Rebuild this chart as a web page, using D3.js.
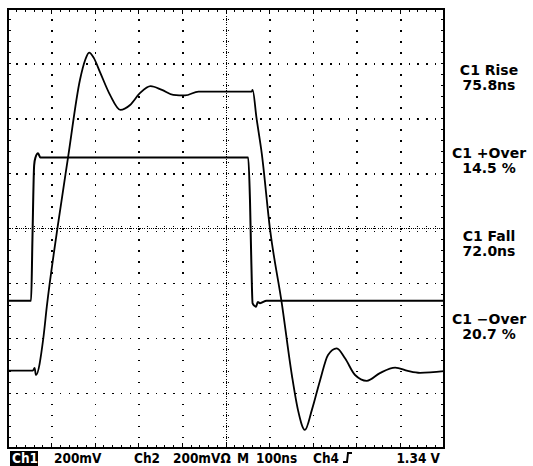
<!DOCTYPE html>
<html>
<head>
<meta charset="utf-8">
<script src="https://cdn.jsdelivr.net/npm/d3@7"></script>
<style>
  body { margin: 0; background: #fff; }
  svg { display: block; }
  .lbl { font-family: "DejaVu Sans", sans-serif; font-weight: bold; font-size: 14px; }
  .bot { font-family: "Liberation Sans Narrow", "DejaVu Sans Condensed", sans-serif; font-weight: bold; font-size: 13.5px; }
</style>
</head>
<body>
<div id="scope"></div>
<script>
// Fast pulse trace (time in ns, level in V)
const pulseTime = [0, 53, 56, 60, 63, 69, 74, 300, 551, 555, 558, 561, 569, 573, 578, 593, 1000]
const pulseVolt = [-0.263, -0.263, -0.042, 0.231, 0.259, 0.274, 0.259, 0.259, 0.259, 0.104, -0.115, -0.273, -0.285, -0.268, -0.272, -0.263, -0.263]

// Slow ringing trace
const ringTime = [0, 57, 61, 64, 81, 89, 113, 138, 165, 177, 186, 197, 211, 234, 258, 280, 303, 327, 353, 379, 406, 437, 502, 559, 561,
  570, 582, 601, 628, 651, 665, 681, 697, 716, 734, 754, 773, 796, 823, 853, 888, 917, 945, 1000]
const ringVolt = [-0.518, -0.518, -0.508, -0.534, -0.400, -0.285, -0.003, 0.262, 0.541, 0.614, 0.641, 0.621, 0.570, 0.487, 0.432, 0.450,
  0.494, 0.519, 0.505, 0.487, 0.485, 0.499, 0.499, 0.499, 0.505,
  0.402, 0.274, -0.003, -0.273, -0.534, -0.661, -0.734, -0.661, -0.552, -0.461, -0.437, -0.473, -0.534, -0.555, -0.527, -0.507, -0.519, -0.526, -0.520]

// Measurement readouts
const measNames = ['C1 Rise', 'C1 +Over', 'C1 Fall', 'C1 \u2212Over']
const measValues = ['75.8ns', '14.5 %', '72.0ns', '20.7 %']

// Status line
const statusTexts = ['200mV', 'Ch2', '200mV\u03a9', 'M', '100ns', 'Ch4']
const statusX = [54, 134, 173, 237, 256, 313]

const width = 533
const height = 466

const svg = d3.select('#scope').append('svg')
  .attr('width', width)
  .attr('height', height)

const x = d3.scaleLinear().domain([0, 1000]).range([8, 444])
const y = d3.scaleLinear().domain([-0.8, 0.8]).range([448, 9])

const xMajor = d3.range(0, 1001, 100)
const xMinor = d3.range(0, 1001, 20)
const yMajor = d3.range(-8, 9).filter(d => d % 2 === 0).map(d => d / 10)
const yMinor = d3.range(-40, 41, 2).map(d => d / 50)

const grid = svg.append('g').attr('shape-rendering', 'crispEdges')

// Dotted graticule
xMajor.slice(1, -1).filter(t => t !== 500).forEach(t => {
  grid.selectAll(null).data(yMinor.slice(1, -1)).enter().append('rect')
    .attr('x', x(t) - 0.5).attr('y', d => y(d) - 0.5)
    .attr('width', 1.6).attr('height', 1.6).attr('fill', '#000')
})
yMajor.slice(1, -1).filter(v => v !== 0).forEach(v => {
  grid.selectAll(null).data(xMinor.slice(1, -1)).enter().append('rect')
    .attr('x', d => x(d) - 0.5).attr('y', y(v) - 0.5)
    .attr('width', 1.6).attr('height', 1.6).attr('fill', '#000')
})

// Centre crosshair
grid.append('line')
  .attr('x1', x(500)).attr('x2', x(500)).attr('y1', y(0.8)).attr('y2', y(-0.8))
  .attr('stroke', '#000').attr('stroke-dasharray', '1,1.2')
grid.append('line')
  .attr('x1', x(0)).attr('x2', x(1000)).attr('y1', y(0)).attr('y2', y(0))
  .attr('stroke', '#000').attr('stroke-dasharray', '1,1.2')
grid.selectAll('.cx').data(yMinor).enter().append('line')
  .attr('x1', x(500) - 3).attr('x2', x(500) + 3)
  .attr('y1', d => y(d)).attr('y2', d => y(d))
  .attr('stroke', '#000').attr('stroke-dasharray', '1,1.5')
grid.selectAll('.cy').data(xMinor).enter().append('line')
  .attr('y1', y(0) - 3).attr('y2', y(0) + 3)
  .attr('x1', d => x(d)).attr('x2', d => x(d))
  .attr('stroke', '#000').attr('stroke-dasharray', '1,1.5')

// Border ticks
const tickLen = 3
grid.selectAll('.tt').data(xMinor).enter().append('line')
  .attr('x1', d => x(d)).attr('x2', d => x(d))
  .attr('y1', y(0.8)).attr('y2', d => y(0.8) + (d % 100 === 0 ? tickLen + 2 : tickLen))
  .attr('stroke', '#000')
grid.selectAll('.tb').data(xMinor).enter().append('line')
  .attr('x1', d => x(d)).attr('x2', d => x(d))
  .attr('y1', y(-0.8)).attr('y2', d => y(-0.8) - (d % 100 === 0 ? tickLen + 2 : tickLen))
  .attr('stroke', '#000')
grid.selectAll('.tl').data(yMinor).enter().append('line')
  .attr('y1', d => y(d)).attr('y2', d => y(d))
  .attr('x1', x(0)).attr('x2', x(0) + tickLen)
  .attr('stroke', '#000')
grid.selectAll('.tr').data(yMinor).enter().append('line')
  .attr('y1', d => y(d)).attr('y2', d => y(d))
  .attr('x1', x(1000)).attr('x2', x(1000) - tickLen)
  .attr('stroke', '#000')

grid.append('rect')
  .attr('x', x(0)).attr('y', y(0.8))
  .attr('width', x(1000) - x(0)).attr('height', y(-0.8) - y(0.8))
  .attr('fill', 'none').attr('stroke', '#000').attr('stroke-width', 2)

// Traces
const line = d3.line()
  .x(d => x(d[0]))
  .y(d => y(d[1]))
  .curve(d3.curveMonotoneX)

svg.append('path')
  .datum(d3.zip(pulseTime, pulseVolt))
  .attr('d', line)
  .attr('fill', 'none').attr('stroke', '#000').attr('stroke-width', 2)

svg.append('path')
  .datum(d3.zip(ringTime, ringVolt))
  .attr('d', line)
  .attr('fill', 'none').attr('stroke', '#000').attr('stroke-width', 1.8)

// Measurement readouts on the right
const meas = svg.selectAll('.meas').data(measNames).enter().append('g')
  .attr('transform', (d, i) => `translate(489, ${75 + i * 83})`)
meas.append('text').attr('class', 'lbl').attr('text-anchor', 'middle').text(d => d)
meas.append('text').attr('class', 'lbl').attr('text-anchor', 'middle').attr('y', 15)
  .text((d, i) => measValues[i])

// Status line
svg.append('rect').attr('x', 10).attr('y', 451).attr('width', 28).attr('height', 15).attr('fill', '#000')
svg.append('text').attr('class', 'bot').attr('x', 12).attr('y', 463).attr('fill', '#fff').text('Ch1')
svg.selectAll('.st').data(statusTexts).enter().append('text')
  .attr('class', 'bot')
  .attr('x', (d, i) => statusX[i]).attr('y', 463)
  .text(d => d)
svg.append('text').attr('class', 'bot').attr('x', 440).attr('y', 463)
  .attr('text-anchor', 'end').text('1.34 V')

// Rising-edge trigger glyph
svg.append('path')
  .attr('d', 'M343,462 L347,462 L348,453 L352,453')
  .attr('fill', 'none').attr('stroke', '#000').attr('stroke-width', 2)
</script>
</body>
</html>
